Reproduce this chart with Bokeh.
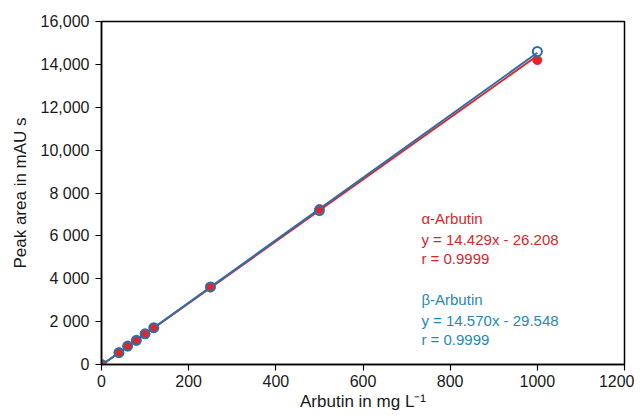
from bokeh.plotting import figure
from bokeh.models import Range1d, FixedTicker, Label
from bokeh.embed import file_html
from bokeh.resources import INLINE

# data
conc = [0, 40, 60, 80, 100, 120, 250, 500, 1000]
alpha_area = [0, 560, 850, 1120, 1420, 1700, 3600, 7250, 14200]
beta_area = [0, 550, 860, 1130, 1430, 1720, 3620, 7180, 14600]
alpha_fit = (14.429, -26.208)
beta_fit = (14.570, -29.548)
x_ticks = [0, 200, 400, 600, 800, 1000, 1200]
y_ticks = [0, 2000, 4000, 6000, 8000, 10000, 12000, 14000, 16000]
y_tick_labels = ["0", "2 000", "4 000", "6 000", "8 000", "10,000", "12,000", "14,000", "16,000"]

RED = "#E1262B"
BLUE = "#2F6FA7"
RED_TXT = "#D8262C"
BLUE_TXT = "#2688B9"
FONT = "Liberation Sans"

p = figure(width=634, height=414, output_backend="svg", toolbar_location=None,
           x_range=Range1d(0, 1200), y_range=Range1d(0, 16000),
           min_border_left=101, min_border_right=10, min_border_top=21, min_border_bottom=50)

p.xgrid.visible = False
p.ygrid.visible = False
p.outline_line_color = "black"
p.outline_line_width = 1.5

for ax in (p.xaxis[0], p.yaxis[0]):
    ax.axis_line_color = "black"
    ax.axis_line_width = 1.5
    ax.major_tick_line_color = "black"
    ax.major_tick_line_width = 1.2
    ax.major_tick_out = 6
    ax.major_tick_in = 0
    ax.minor_tick_line_color = None
    ax.major_label_text_font = FONT
    ax.major_label_text_font_size = "16px"
    ax.major_label_text_color = "#1a1a1a"
    ax.axis_label_text_font = FONT
    ax.axis_label_text_font_size = "17px"
    ax.axis_label_text_font_style = "normal"
    ax.axis_label_text_color = "#1a1a1a"

p.xaxis.ticker = FixedTicker(ticks=x_ticks)
p.yaxis.ticker = FixedTicker(ticks=y_ticks)
p.yaxis.major_label_overrides = {t: l for t, l in zip(y_ticks, y_tick_labels)}
p.xaxis.axis_label = "Arbutin in mg L⁻¹"
p.yaxis.axis_label = "Peak area in mAU s"
p.xaxis.major_label_standoff = 4
p.xaxis.axis_label_standoff = 2
p.yaxis.major_label_standoff = 6
p.yaxis.axis_label_standoff = 8

# fit lines
x_fit = [min(conc), max(conc)]
p.line(x_fit, [alpha_fit[0] * x + alpha_fit[1] for x in x_fit], line_color=RED, line_width=2)
p.line(x_fit, [beta_fit[0] * x + beta_fit[1] for x in x_fit], line_color=BLUE, line_width=2)

# points
p.scatter(conc, alpha_area, size=9, fill_color=RED, line_color=RED)
p.scatter(conc, beta_area, size=9, fill_alpha=0, line_color=BLUE, line_width=2)

def add_text(txt, y, color):
    p.add_layout(Label(x=734, y=y, text=txt, text_color=color, text_font=FONT,
                       text_font_size="15px", text_baseline="middle"))

add_text("α-Arbutin", 6810, RED_TXT)
add_text("y = 14.429x - 26.208", 5831, RED_TXT)
add_text("r = 0.9999", 4945, RED_TXT)
add_text("β-Arbutin", 3032, BLUE_TXT)
add_text("y = 14.570x - 29.548", 2052, BLUE_TXT)
add_text("r = 0.9999", 1166, BLUE_TXT)

open("out.html", "w").write(file_html(p, INLINE))
